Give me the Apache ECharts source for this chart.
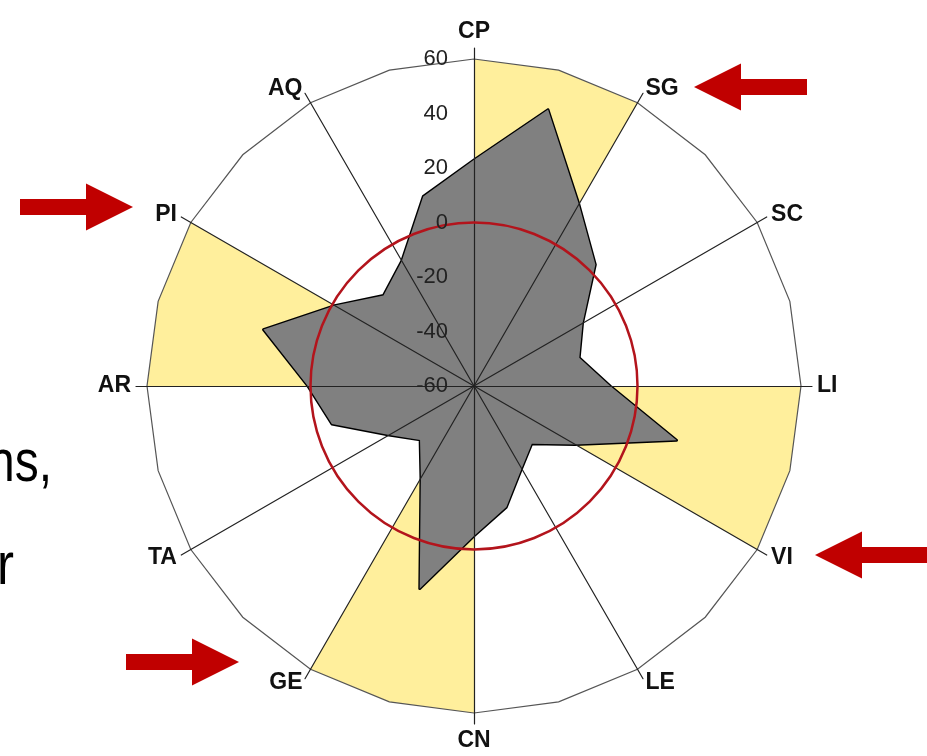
<!DOCTYPE html>
<html>
<head>
<meta charset="utf-8">
<script src="https://cdn.jsdelivr.net/npm/echarts@6/dist/echarts.min.js"></script>
<style>
html, body { margin: 0; padding: 0; background: #fff; }
#chart { width: 927px; height: 756px; }
</style>
</head>
<body>
<div id="chart"></div>
<script>
// clockwise from the top, one step every 15 degrees ('' = unlabelled half step)
const axisNames = ['CP', '', 'SG', '', 'SC', '', 'LI', '', 'VI', '', 'LE', '', 'CN', '', 'GE', '', 'TA', '', 'AR', '', 'PI', '', 'AQ', ''];
const scores = [23, 45, 17, 3, -14, -20, -10, 17, -17, -30, -25, -14, -5, 17, -21, -32, -24, -6, 1, 20, -1, -13, -7, 12];
// each shaded sector starts at one labelled axis and runs clockwise to the next
const shadedFrom = ['CP', 'LI', 'CN', 'AR'];
const scaleMin = -60;
const scaleMax = 60;

const colors = {
    ring: '#555',
    spoke: '#222',
    text: '#111',
    shade: '#FFEF9C',
    area: '#808080',
    zero: '#B3141C',
    arrow: '#C00000'
};

// echarts radar places indicators counter-clockwise, so flip the order
const toRadarOrder = arr => [arr[0]].concat(arr.slice(1).reverse());

const labelled = axisNames.filter((n, i) => i % 2 === 0);
const shadedValues = axisNames.map(function (n, i) {
    const inside = shadedFrom.some(function (start) {
        const s = axisNames.indexOf(start);
        return i >= s && i <= s + 2;
    });
    return inside ? scaleMax : scaleMin;
});

const center = [474, 386];
const R = 327;

function arrow(tipX, y, dir) {
    // dir 1 = points right, -1 = points left
    const len = 113, head = 47, hh = 23.5, sh = 8;
    const baseX = tipX - dir * head;
    const tailX = tipX - dir * len;
    return {
        type: 'polygon',
        silent: true,
        shape: {
            points: [
                [tipX, y], [baseX, y - hh], [baseX, y - sh], [tailX, y - sh],
                [tailX, y + sh], [baseX, y + sh], [baseX, y + hh]
            ]
        },
        style: { fill: colors.arrow }
    };
}

const chart = echarts.init(document.getElementById('chart'));
chart.setOption({
    animation: false,
    backgroundColor: '#fff',
    radar: [
        {
            // 24-step outer frame
            center: center,
            radius: R,
            startAngle: 90,
            shape: 'polygon',
            splitNumber: 1,
            z: 3,
            indicator: toRadarOrder(axisNames).map(() => ({ name: '', min: scaleMin, max: scaleMax })),
            axisName: { show: false },
            axisLine: { show: false },
            axisTick: { show: false },
            axisLabel: { show: false },
            splitArea: { show: false },
            splitLine: { lineStyle: { color: colors.ring, width: 1.2 } }
        },
        {
            // labelled spokes
            center: center,
            radius: R + 11,
            startAngle: 90,
            shape: 'polygon',
            splitNumber: 1,
            z: 4,
            nameGap: 5,
            indicator: toRadarOrder(labelled).map(n => ({ name: n, min: scaleMin, max: scaleMax })),
            axisName: { color: colors.text, fontFamily: 'Liberation Sans', fontWeight: 'bold', fontSize: 23 },
            axisLine: { lineStyle: { color: colors.spoke, width: 1.2 } },
            axisTick: { show: false },
            axisLabel: { show: false },
            splitArea: { show: false },
            splitLine: { show: false }
        },
        {
            // zero ring
            center: center,
            radius: R,
            startAngle: 90,
            shape: 'circle',
            splitNumber: 2,
            z: 5,
            indicator: labelled.map(() => ({ name: '', min: scaleMin, max: scaleMax })),
            axisName: { show: false },
            axisLine: { show: false },
            axisTick: { show: false },
            axisLabel: { show: false },
            splitArea: { show: false },
            splitLine: { lineStyle: { color: ['rgba(0,0,0,0)', colors.zero, 'rgba(0,0,0,0)'], width: 2.5 } }
        },
        {
            // value labels along CP
            center: center,
            radius: R,
            startAngle: 90,
            splitNumber: 6,
            z: 6,
            indicator: [{ name: '', min: scaleMin, max: scaleMax }],
            axisName: { show: false },
            axisLine: { show: false },
            axisTick: { show: false },
            splitArea: { show: false },
            splitLine: { show: false },
            axisLabel: { show: true, margin: 26, fontSize: 22, color: '#222', fontFamily: 'Liberation Sans' }
        }
    ],
    series: [
        {
            type: 'radar',
            radarIndex: 0,
            silent: true,
            symbol: 'none',
            lineStyle: { width: 0, opacity: 0 },
            areaStyle: { color: colors.shade, opacity: 1 },
            data: [{ value: toRadarOrder(shadedValues) }]
        },
        {
            type: 'radar',
            radarIndex: 0,
            silent: true,
            symbol: 'none',
            lineStyle: { color: '#000', width: 2.8 },
            areaStyle: { color: colors.area, opacity: 1 },
            data: [{ value: toRadarOrder(scores) }]
        }
    ],
    graphic: [
        arrow(694, 87, -1),
        arrow(133, 207, 1),
        arrow(815, 555, -1),
        arrow(239, 662, 1),
        {
            type: 'text', silent: true, x: 52, y: 464, scaleX: 0.8,
            style: { text: 'ns,', font: '60px "Liberation Sans"', fill: '#000', align: 'right', verticalAlign: 'middle' }
        },
        {
            type: 'text', silent: true, x: 14, y: 567, scaleX: 0.85,
            style: { text: 'r', font: '60px "Liberation Sans"', fill: '#000', align: 'right', verticalAlign: 'middle' }
        }
    ]
});
</script>
</body>
</html>
